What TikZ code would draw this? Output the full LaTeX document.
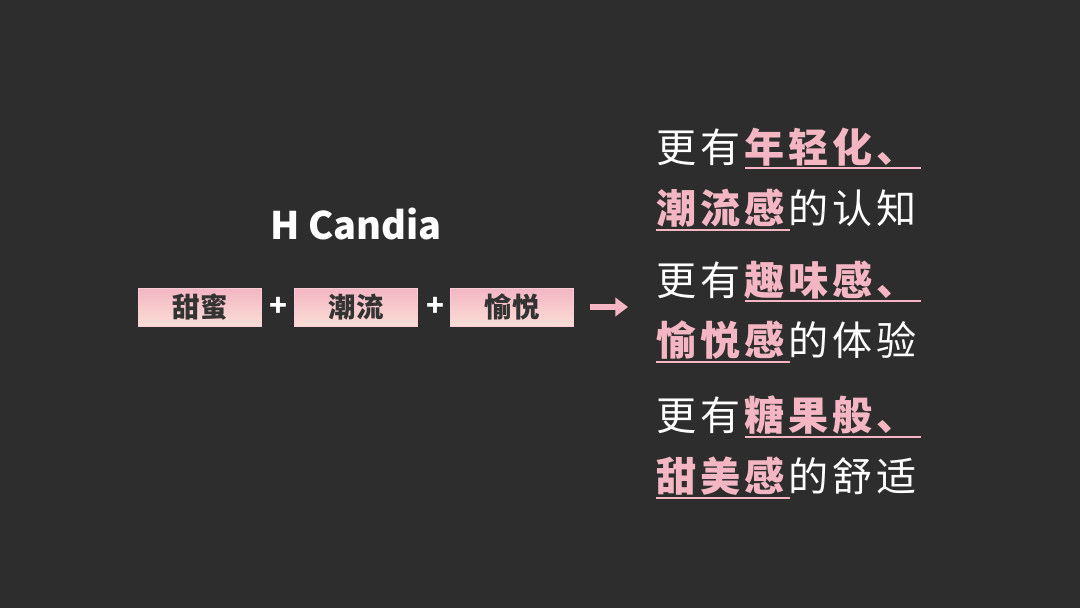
\documentclass[tikz,border=0pt]{standalone}
\usepackage{fontspec}
\newfontfamily\cjk{Noto Sans CJK SC}
\newfontfamily\cjkwide[LetterSpace=10]{Noto Sans CJK SC}
\usetikzlibrary{arrows.meta}
\definecolor{bgdark}{HTML}{2D2D2D}
\definecolor{pinkhi}{HTML}{F4B6C3}
\definecolor{pinklo}{HTML}{FADDD6}
\definecolor{inkdark}{HTML}{333333}
\tikzset{
  tagbox/.style={minimum width=123*0.025cm, minimum height=38*0.025cm, inner sep=0,
    top color=pinkhi, bottom color=pinklo, draw=pinkhi!70!white, line width=0.4pt,
    font=\cjk\bfseries\fontsize{19.5}{19.5}\selectfont, text=inkdark},
  plus/.style={font=\cjk\bfseries\fontsize{21}{21}\selectfont, text=white},
  claim/.style={anchor=west, inner sep=0, text=white, font=\cjkwide\fontsize{28.5}{28.5}\selectfont},
  uline/.style={pinkhi, line width=1.2pt}
}
% pink highlight, with the letter gap restored on its outer side
\newcommand{\hlpre}[1]{\kern2.8pt\textcolor{pinkhi}{\bfseries #1}}
\newcommand{\hlpost}[1]{\textcolor{pinkhi}{\bfseries #1}\kern2.8pt}
\begin{document}
\begin{tikzpicture}[x=0.025cm, y=-0.025cm]
  \fill[bgdark] (0,0) rectangle (1080,608);
  \useasboundingbox (0,0) rectangle (1080,608);

  \node[text=white, font=\cjk\bfseries\fontsize{27}{27}\selectfont] (brand) at (356,224) {H Candia};

  \node[tagbox] (sweet) at (200,307) {甜蜜};
  \node[plus] (p1) at (278,307) {+};
  \node[tagbox] (trend) at (356,307) {潮流};
  \node[plus] (p2) at (435,307) {+};
  \node[tagbox] (joy) at (512,307) {愉悦};
  \coordinate (arrowstart) at (590,307);
  \coordinate (arrowend) at (628,307);
  \draw[pinkhi, line width=4pt, -{Triangle[length=9pt,width=13pt]}] (arrowstart) -- (arrowend);

  % claims
  \node[claim] (c1) at (656,147) {更有\hlpre{年轻化、}};
  \node[claim] (c2) at (656,208) {\hlpost{潮流感}的认知};
  \node[claim] (c3) at (656,280) {更有\hlpre{趣味感、}};
  \node[claim] (c4) at (656,340) {\hlpost{愉悦感}的体验};
  \node[claim] (c5) at (656,415) {更有\hlpre{糖果般、}};
  \node[claim] (c6) at (656,476) {\hlpost{甜美感}的舒适};

  \draw[uline] (745,168) -- (921,168);
  \draw[uline] (656,230) -- (790,230);
  \draw[uline] (745,301) -- (921,301);
  \draw[uline] (656,362) -- (790,362);
  \draw[uline] (745,437) -- (921,437);
  \draw[uline] (656,498) -- (790,498);
\end{tikzpicture}
\end{document}
